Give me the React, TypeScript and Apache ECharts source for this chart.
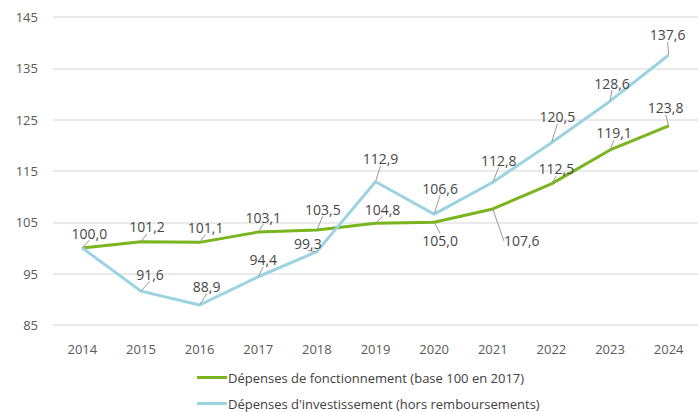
import React, { useEffect, useRef } from "react";
import * as echarts from "echarts";

const years = ["2014", "2015", "2016", "2017", "2018", "2019", "2020", "2021", "2022", "2023", "2024"];
const fonctionnement = [100.0, 101.2, 101.1, 103.1, 103.5, 104.8, 105.0, 107.6, 112.5, 119.1, 123.8];
const investissement = [100.0, 91.6, 88.9, 94.4, 99.3, 112.9, 106.6, 112.8, 120.5, 128.6, 137.6];
const yTicks = [85, 95, 105, 115, 125, 135, 145];

// label offsets (pixels from the point), per data index
const greenOffsets: [number, number][] = [
  [7, -15], [6, -15], [6, -15], [5, -15], [6, -21], [7, -14], [6, 18], [29, 32], [5, -15], [4, -17], [-3, -18],
];
const blueOffsets: [number, number][] = [
  [0, 0], [9, -17], [7, -18], [5, -17], [-9, -8], [5, -23], [6, -26], [6, -22], [6, -26], [2, -18], [-1, -20],
];

const GREEN = "#78B51E";
const BLUE = "#9BD3E1";
const FONT = "Open Sans";

export default function App() {
  const ref = useRef<HTMLDivElement>(null);
  useEffect(() => {
    if (!ref.current) return;
    const chart = echarts.init(ref.current, null, { renderer: "svg" });
    const fmt = (p: any) => Number(p.value).toFixed(1).replace(".", ",");
    const mkLabel = () => ({
      show: true,
      position: "inside" as const,
      formatter: fmt,
      color: "#474747",
      fontSize: 14,
      fontFamily: FONT,
    });
    chart.setOption({
      animation: false,
      textStyle: { fontFamily: FONT },
      grid: { left: 53, top: 17, width: 657, height: 308, containLabel: false },
      xAxis: {
        type: "category",
        data: years,
        boundaryGap: true,
        axisLine: { show: false },
        axisTick: { show: false },
        axisLabel: { color: "#595959", fontSize: 13, fontFamily: FONT, margin: 17 },
      },
      yAxis: {
        type: "value",
        min: yTicks[0],
        max: yTicks[yTicks.length - 1],
        interval: 10,
        axisLine: { show: false },
        axisTick: { show: false },
        axisLabel: { color: "#595959", fontSize: 13, fontFamily: FONT, margin: 15 },
        splitLine: { lineStyle: { color: "#E3E3E3", width: 1.5 } },
      },
      legend: {
        orient: "vertical",
        left: 197,
        top: 371,
        padding: 0,
        itemWidth: 30,
        itemHeight: 3,
        itemGap: 13,
        icon: "rect",
        textStyle: { color: "#404040", fontSize: 13, fontFamily: FONT, padding: [0, 0, 0, -4] },
        data: [
          "Dépenses de fonctionnement (base 100 en 2017)",
          "Dépenses d'investissement (hors remboursements)",
        ],
      },
      series: [
        {
          name: "Dépenses de fonctionnement (base 100 en 2017)",
          type: "line",
          data: fonctionnement,
          symbol: "circle",
          symbolSize: 1,
          showSymbol: true,
          itemStyle: { color: GREEN },
          lineStyle: { color: GREEN, width: 3 },
          label: mkLabel(),
          labelLine: { show: true, lineStyle: { color: "#9A9A9A", width: 1 } },
          labelLayout: (p: any) => {
            const o = greenOffsets[p.dataIndex];
            return { dx: o[0], dy: o[1] };
          },
        },
        {
          name: "Dépenses d'investissement (hors remboursements)",
          type: "line",
          data: investissement.map((v, i) => (i === 0 ? { value: v, label: { show: false } } : v)),
          symbol: "circle",
          symbolSize: 1,
          showSymbol: true,
          itemStyle: { color: BLUE },
          lineStyle: { color: BLUE, width: 3 },
          label: mkLabel(),
          labelLine: { show: true, lineStyle: { color: "#9A9A9A", width: 1 } },
          labelLayout: (p: any) => {
            const o = blueOffsets[p.dataIndex];
            return { dx: o[0], dy: o[1] };
          },
        },
      ],
    });
    return () => chart.dispose();
  }, []);
  return (
    <div
      ref={ref}
      style={{ position: "fixed", left: 0, top: 0, width: 698, height: 412, background: "#fff" }}
    />
  );
}
